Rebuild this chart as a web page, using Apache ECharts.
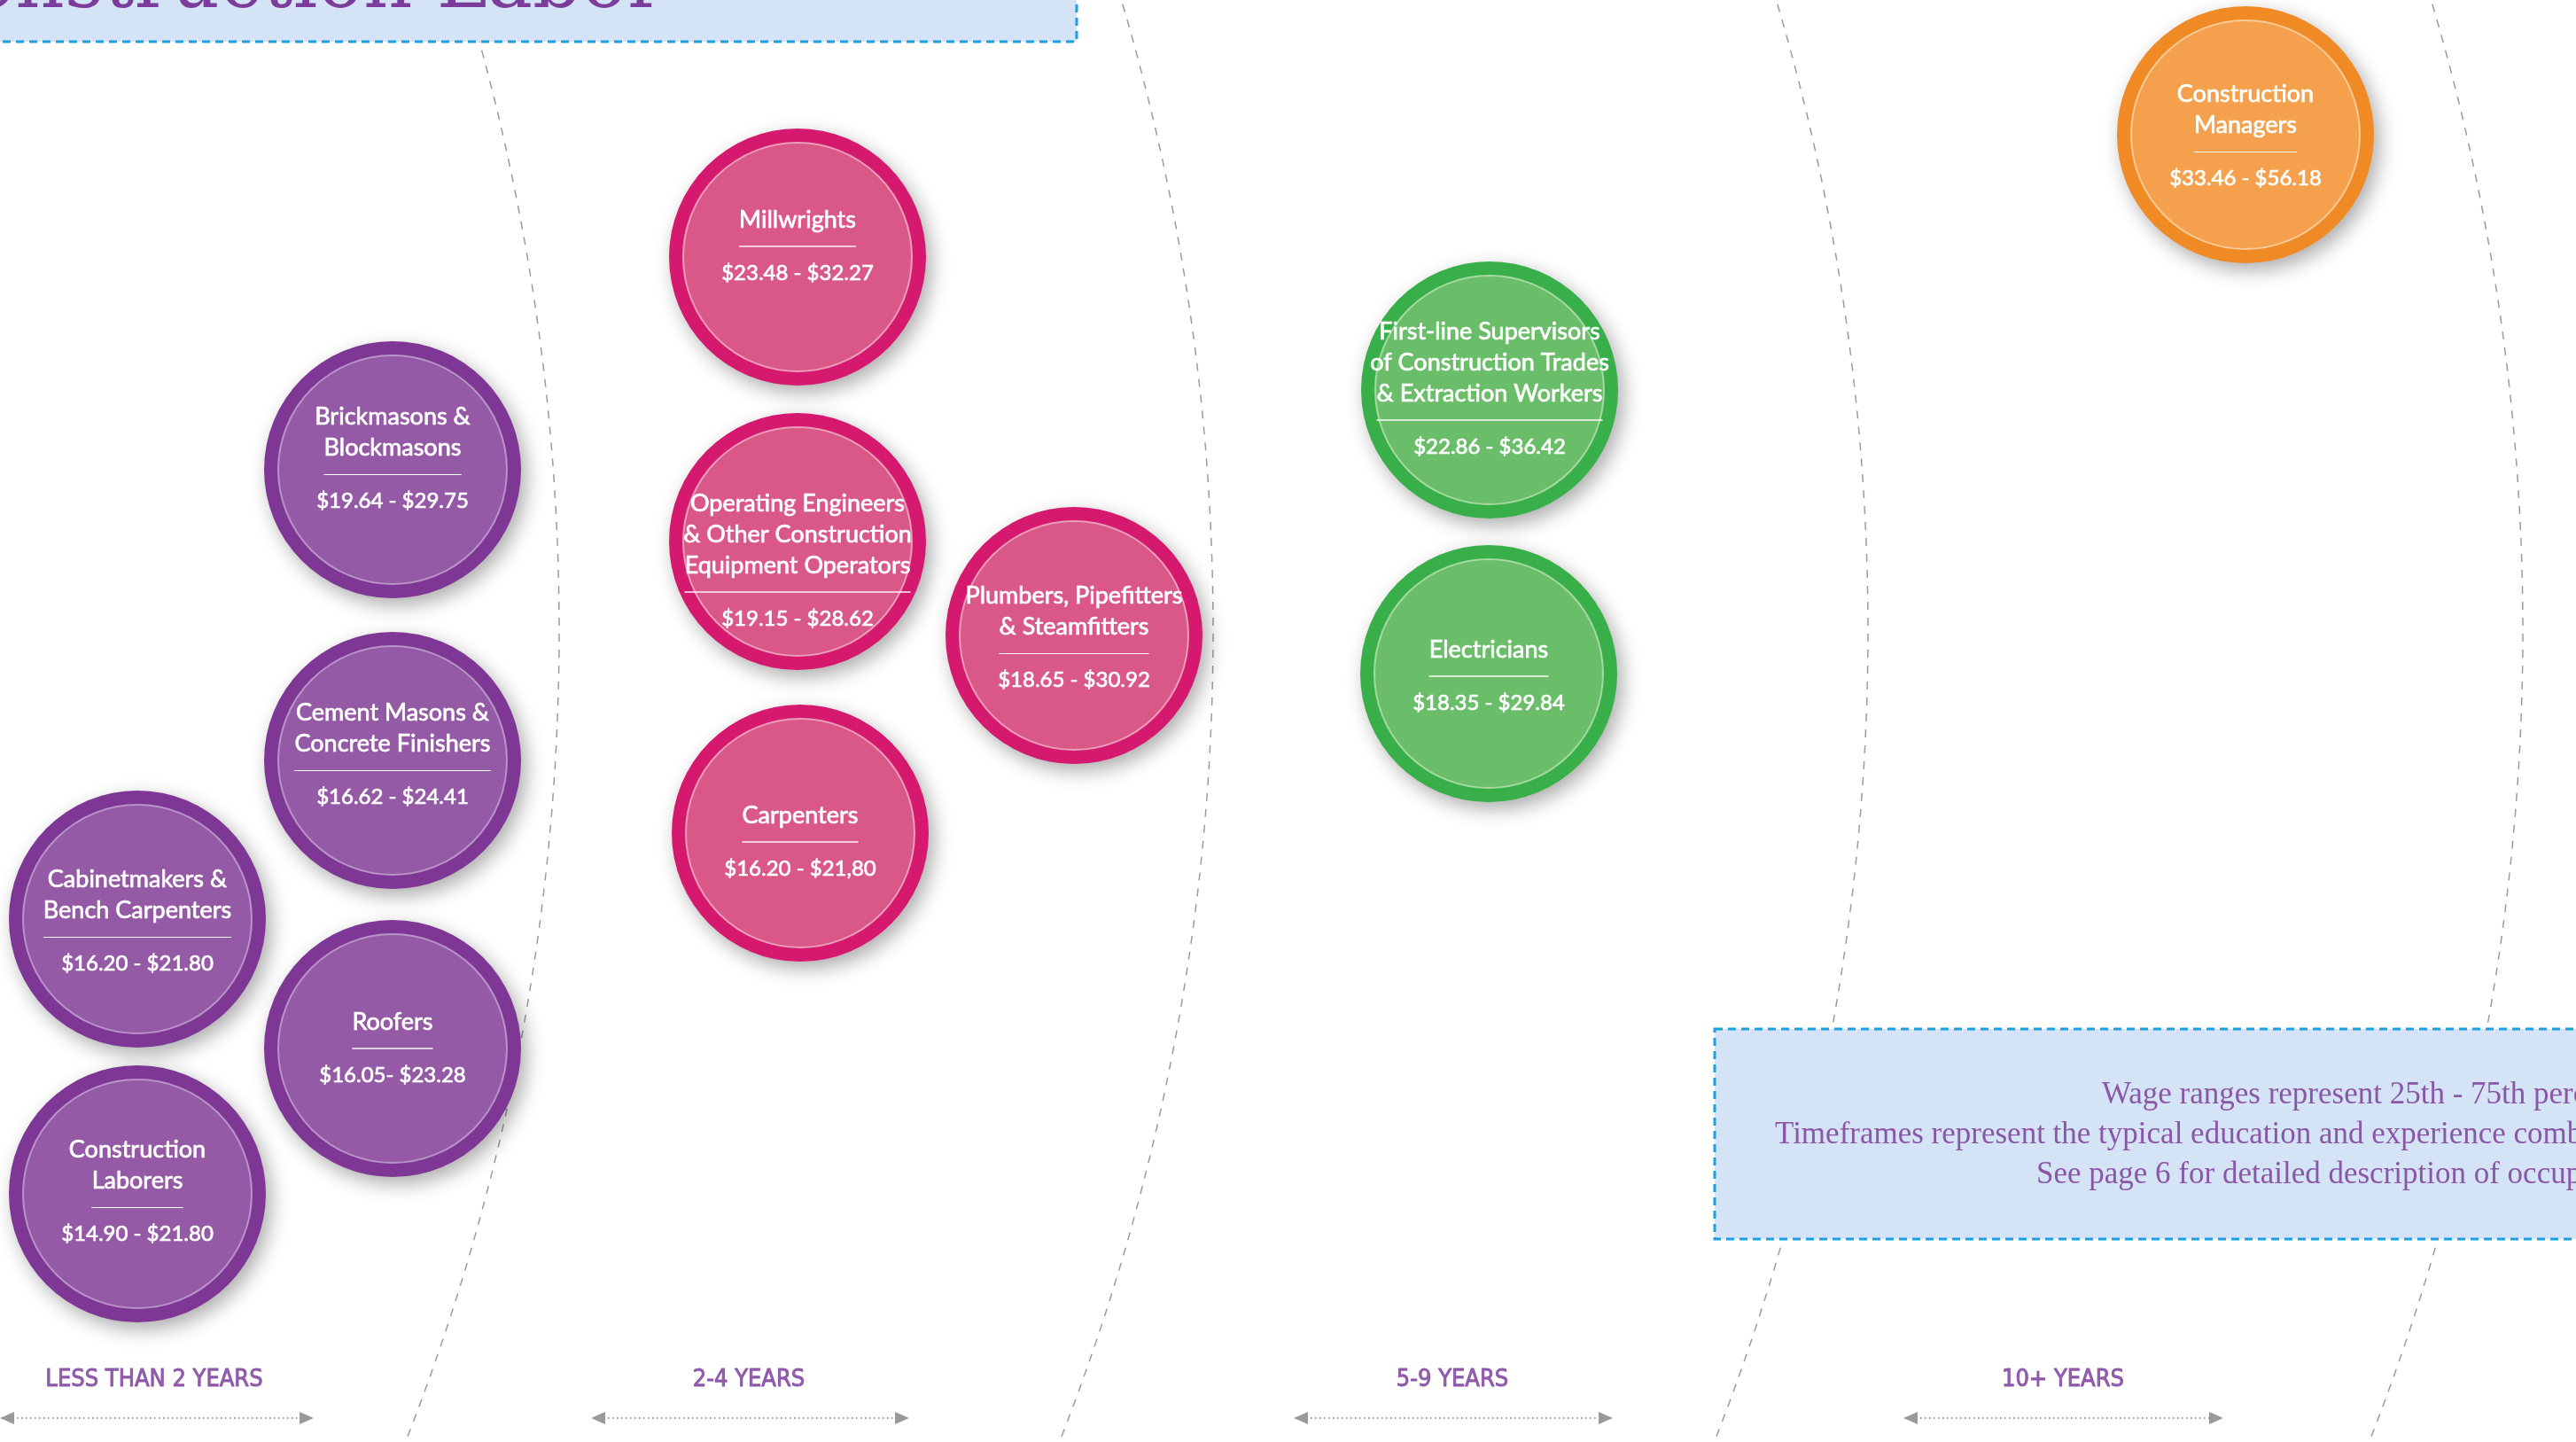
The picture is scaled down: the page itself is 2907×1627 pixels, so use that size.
<!DOCTYPE html>
<html><head><meta charset="utf-8">
<script src="https://cdn.jsdelivr.net/npm/echarts@6/dist/echarts.min.js"></script>
<style>html,body{margin:0;padding:0;background:#fff;overflow:hidden}#c{width:2907px;height:1627px}</style>
</head><body><div id="c"></div>
<script>
// ---- data ----
const occupations = [
  'Construction\nManagers',
  'Millwrights',
  'Brickmasons &\nBlockmasons',
  'Operating Engineers\n& Other Construction\nEquipment Operators',
  'First-line Supervisors\nof Construction Trades\n& Extraction Workers',
  'Plumbers, Pipefitters\n& Steamfitters',
  'Electricians',
  'Cement Masons &\nConcrete Finishers',
  'Carpenters',
  'Cabinetmakers &\nBench Carpenters',
  'Roofers',
  'Construction\nLaborers'
];
const wageLabels = ['$33.46 - $56.18','$23.48 - $32.27','$19.64 - $29.75','$19.15 - $28.62',
  '$22.86 - $36.42','$18.65 - $30.92','$18.35 - $29.84','$16.62 - $24.41',
  '$16.20 - $21,80','$16.20 - $21.80','$16.05- $23.28','$14.90 - $21.80'];
const timeframeOf = [3,1,0,1,2,1,2,0,1,0,0,0];
const timeframes = ['LESS THAN 2 YEARS','2-4 YEARS','5-9 YEARS','10+ YEARS'];
const titleText = 'Construction Labor';
const noteLines = [
  'Wage ranges represent 25th - 75th percentile',
  'Timeframes represent the typical education and experience combination needed',
  'See page 6 for detailed description of occupations'
];

// ---- layout (chart coordinates, separate from data) ----
const bubbleX = [2534,900,443,900,1681,1212,1680,443,903,155,443,155];
const bubbleY = [152,290,530,611,440,717,760,858,940,1037,1183,1347];
const labelShift = [2,-12,-12,22,-1,3,3,-6,10,3,0,-2];
const timeframeX = [174,845,1639,2328];
const arrowSpans = [[0,354],[667,1026],[1460,1820],[2148,2509]];
const arcCenters = [-1869,-1131,-392,347];

// ---- styles ----
const palette = [
  {outer:'#7E3794', inner:'#955AA6', ring:'#B894C8'},
  {outer:'#D4196F', inner:'#DA5887', ring:'#EC9DBA'},
  {outer:'#39AF4A', inner:'#6BBE69', ring:'#A6D9A1'},
  {outer:'#F08A25', inner:'#F5A04C', ring:'#F9CB96'}
];
const TITLE_FONT = 27, WAGE_FONT = 24, FONT = 'Lato';
const W = 2907, H = 1627;

const ctx = document.createElement('canvas').getContext('2d');
ctx.font = TITLE_FONT + 'px ' + FONT;
const rich = {
  t: {fontFamily: FONT, fontSize: TITLE_FONT, color: '#fff', lineHeight: 35, textBorderColor: '#fff', textBorderWidth: 0.7},
  w: {fontFamily: FONT, fontSize: WAGE_FONT, color: '#fff', lineHeight: 35, textBorderColor: '#fff', textBorderWidth: 0.7}
};
occupations.forEach((o, i) => {
  const lines = o.split('\n');
  rich['hr' + i] = {width: Math.round(ctx.measureText(lines[lines.length-1]).width),
    height: 0, borderColor: 'rgba(255,255,255,0.9)', borderWidth: 1, lineHeight: 25};
});

const outerData = bubbleX.map((x, i) => ({
  value: [x, bubbleY[i]],
  itemStyle: {color: palette[timeframeOf[i]].outer}
}));
const innerData = bubbleX.map((x, i) => ({
  value: [x, bubbleY[i]],
  name: occupations[i],
  itemStyle: {color: palette[timeframeOf[i]].inner, borderColor: palette[timeframeOf[i]].ring},
  label: {offset: [0, labelShift[i]]}
}));

const graphics = [];
arcCenters.forEach(cx => graphics.push({
  type: 'arc', z: 0, silent: true,
  shape: {cx: cx, cy: 712, r: 2500, startAngle: -0.33, endAngle: 0.41},
  style: {fill: null, stroke: '#9c9c9c', lineWidth: 1.5, lineDash: [9, 9]}
}));
graphics.push({type: 'rect', z: 1, shape: {x: -20, y: -20, width: 1235, height: 67},
  style: {fill: '#D4E4F6', stroke: '#1BA0DE', lineWidth: 3, lineDash: [9, 6]}});
graphics.push({type: 'text', z: 2, x: 749, y: -14,
  style: {text: titleText, font: '86px "DejaVu Serif"', fill: '#7B3C9B', align: 'right', verticalAlign: 'middle'}});
graphics.push({type: 'rect', z: 1, shape: {x: 1935, y: 1161, width: 1100, height: 237},
  style: {fill: '#D4E4F6', stroke: '#1BA0DE', lineWidth: 3, lineDash: [9, 6]}});
const noteLeft = [2372, 2003, 2298], noteY = [1236, 1281, 1326];
noteLines.forEach((t, i) => graphics.push({type: 'text', z: 2, x: noteLeft[i], y: noteY[i],
  style: {text: t, font: '35px "Liberation Serif"', fill: '#8A57A6', align: 'left', verticalAlign: 'middle'}}));
arrowSpans.forEach(([a, b]) => {
  const y = 1600;
  graphics.push({type: 'line', z: 1, shape: {x1: a + 14, y1: y, x2: b - 14, y2: y},
    style: {stroke: '#9a9a9a', lineWidth: 2, lineDash: [1.5, 3.5]}});
  graphics.push({type: 'polygon', z: 1, shape: {points: [[a, y], [a + 16, y - 7], [a + 16, y + 7]]}, style: {fill: '#9a9a9a'}});
  graphics.push({type: 'polygon', z: 1, shape: {points: [[b, y], [b - 16, y - 7], [b - 16, y + 7]]}, style: {fill: '#9a9a9a'}});
});

const chart = echarts.init(document.getElementById('c'), null, {renderer: 'canvas'});
chart.setOption({
  backgroundColor: '#ffffff',
  animation: false,
  grid: {left: 0, right: 0, top: 0, bottom: 0},
  xAxis: {type: 'value', min: 0, max: W, show: false},
  yAxis: {type: 'value', min: 0, max: H, inverse: true, show: false},
  graphic: graphics,
  series: [
    {type: 'scatter', z: 3, silent: true, symbolSize: 290, data: outerData,
      emphasis: {disabled: true},
      itemStyle: {opacity: 1, shadowBlur: 22, shadowOffsetX: 6, shadowOffsetY: 8, shadowColor: 'rgba(0,0,0,0.33)'}},
    {type: 'scatter', z: 4, silent: true, symbolSize: 258, data: innerData,
      emphasis: {disabled: true},
      itemStyle: {opacity: 1, borderWidth: 2},
      label: {show: true, position: 'inside', rich: rich,
        formatter: p => p.name.split('\n').map(l => '{t|' + l + '}').join('\n') +
          '\n{hr' + p.dataIndex + '|}\n{w|' + wageLabels[p.dataIndex] + '}'}},
    {type: 'scatter', z: 4, silent: true, symbolSize: 0,
      data: timeframes.map((t, i) => ({value: [timeframeX[i], 1557], name: t})),
      label: {show: true, position: 'inside', formatter: '{b}', color: '#7B3C9B', fontSize: 27,
        textBorderColor: '#7B3C9B', textBorderWidth: 0.9,
        fontFamily: '"Liberation Sans Narrow","DejaVu Sans Condensed","Roboto Condensed",Roboto'}}
  ]
});
</script></body></html>
